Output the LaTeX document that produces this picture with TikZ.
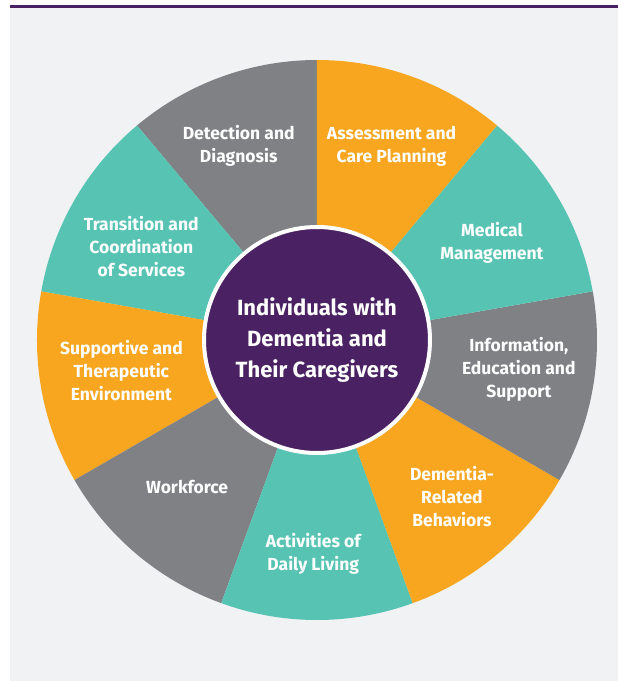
\documentclass[tikz,border=0pt]{standalone}
\usepackage{fontspec}
\setmainfont{Fira Sans}
\usetikzlibrary{positioning}

\definecolor{wheelorange}{HTML}{F8A51F}
\definecolor{wheelteal}{HTML}{57C3B3}
\definecolor{wheelgray}{HTML}{808184}
\definecolor{wheelpurple}{HTML}{4A2263}
\definecolor{pagegray}{HTML}{F1F2F4}

\tikzset{
  part/.style={align=center, text=white,
    font=\fontsize{17.5}{23}\selectfont\bfseries},
  hub/.style={circle, fill=wheelpurple, draw=white, line width=4pt,
    minimum size=226pt, inner sep=0pt, align=center, text=white,
    font=\fontsize{22}{31}\selectfont\bfseries}
}

\begin{document}
\begin{tikzpicture}[x=1pt, y=1pt]
   \useasboundingbox (-317,-341) rectangle (301,340);
   \fill [white] (-317,-341) rectangle (301,340);
   \fill [pagegray] (-307,-341) rectangle (301,332);
   \fill [wheelpurple] (-307,332) rectangle (301,335);

   % the nine parts of the wheel
   \foreach \a/\col in {90/wheelgray, 130/wheelteal, 170/wheelorange,
      210/wheelgray, 250/wheelteal, 290/wheelorange, 330/wheelgray,
      10/wheelteal, 50/wheelorange}
      \fill [\col] (0,0) -- (\a:280) arc [start angle=\a,
         end angle=\a+40, radius=280] -- cycle;

   \node (hub) at (0,0) [hub] {Individuals with\\Dementia and\\Their Caregivers};

   \node (detect) at (112:209) [part] {Detection and\\Diagnosis};
   \node (assess) at (69:208) [part] {Assessment and\\Care Planning};
   \node (medical) at (29:200) [part] {Medical\\Management};
   \node (inform) at (-8.4:204) [part] {Information,\\Education and\\Support};
   \node (behave) at (-49.3:207) [part] {Dementia-\\Related\\Behaviors};
   \node (daily) at (-91:214) [part] {Activities of\\Daily Living};
   \node (work) at (-131.5:196) [part] {Workforce};
   \node (support) at (189:198) [part] {Supportive and\\Therapeutic\\Environment};
   \node (transit) at (152:199) [part] {Transition and\\Coordination\\of Services};
\end{tikzpicture}
\end{document}
